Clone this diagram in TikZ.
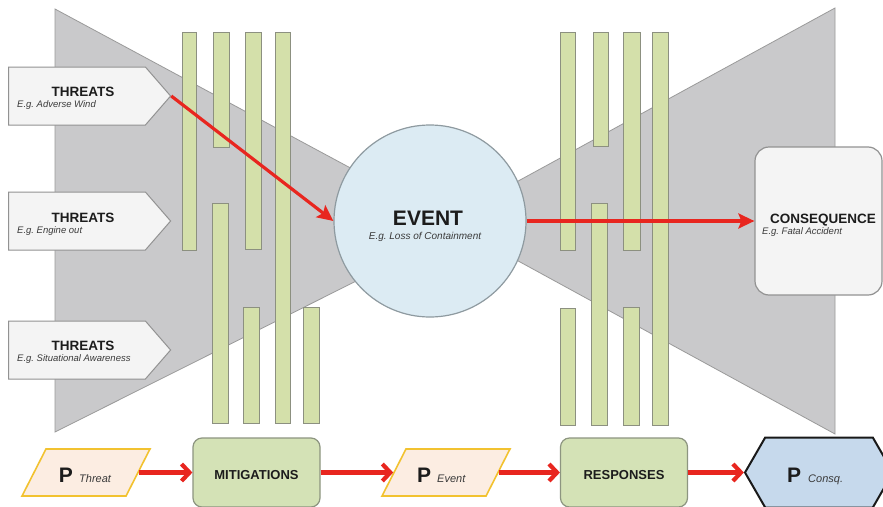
\documentclass[tikz,border=0pt]{standalone}
\usepackage{fontspec}
\setmainfont{Liberation Sans}
\frenchspacing
\usetikzlibrary{shapes.symbols,arrows.meta}
\definecolor{tri}{HTML}{C9C9CB}
\definecolor{triline}{HTML}{9A9A9A}
\definecolor{threatfill}{HTML}{F4F4F4}
\definecolor{boxline}{HTML}{929292}
\definecolor{barfill}{HTML}{D4E0AA}
\definecolor{barline}{HTML}{8C9080}
\definecolor{evfill}{HTML}{DCEBF3}
\definecolor{evline}{HTML}{8E9AA0}
\definecolor{arrred}{HTML}{E8261F}
\definecolor{pfill}{HTML}{FCEDE2}
\definecolor{pline}{HTML}{F2C230}
\definecolor{gbox}{HTML}{D4E2B6}
\definecolor{gline}{HTML}{8D9580}
\definecolor{cqfill}{HTML}{C6D9EC}
\definecolor{txt}{HTML}{1C1C1C}
\definecolor{subtxt}{HTML}{3A3A3A}
\begin{document}
\begin{tikzpicture}[x=1pt,y=-1pt,
  trishape/.style={fill=tri,draw=triline,line width=0.8pt},
  threatbox/.style={signal,signal to=east,signal pointer angle=98,draw=boxline,fill=threatfill,line width=1pt,minimum width=162pt,minimum height=58pt,inner sep=0pt},
  bar/.style={fill=barfill,draw=barline,line width=0.9pt},
  title/.style={anchor=base,inner sep=0pt,text=txt,font=\fontsize{13.5}{15}\selectfont\bfseries},
  sub/.style={anchor=base west,inner sep=0pt,text=subtxt,font=\fontsize{9.5}{11}\selectfont\itshape},
  redarrow/.style={draw=arrred,line width=3.2pt,-{Stealth[length=16pt,width=15pt,inset=3pt]}},
  flowarrow/.style={draw=arrred,line width=4.2pt,-{Straight Barb[length=8pt,width=17pt]}},
  pbox/.style={draw=pline,fill=pfill,line width=1.6pt,xslant=0.51,minimum width=104pt,minimum height=47pt,inner sep=0pt},
  gbx/.style={draw=gline,fill=gbox,line width=1.2pt,rounded corners=9pt,minimum width=127pt,minimum height=69pt,inner sep=0pt},
  bigp/.style={anchor=base,inner sep=0pt,text=txt,font=\fontsize{21}{24}\selectfont\bfseries},
  psub/.style={anchor=base west,inner sep=0pt,text=subtxt,font=\fontsize{11}{13}\selectfont\itshape}
]
\useasboundingbox (0,0) rectangle (883,506);
\fill[white] (0,0) rectangle (883,506);
\clip (0,0) rectangle (883,506);

% bow-tie triangles
\draw[trishape] (55,9) -- (462,228) -- (55,432) -- cycle;
\draw[trishape] (835,8) -- (445,221) -- (835,434) -- cycle;

% event
\node[circle,draw=evline,fill=evfill,line width=1.2pt,minimum size=192pt,inner sep=0pt] (event) at (430,221) {};
\node[anchor=base,inner sep=0pt,text=txt,font=\fontsize{21}{24}\selectfont\bfseries] (evtitle) at (428,225) {EVENT};
\node[anchor=base,inner sep=0pt,text=subtxt,font=\fontsize{10}{12}\selectfont\itshape] (evsub) at (425,239) {E.g. Loss of Containment};

% consequence
\node[rectangle,rounded corners=14pt,draw=boxline,fill=threatfill,line width=1.2pt,minimum width=127pt,minimum height=148pt,inner sep=0pt] (conseq) at (818.5,221) {};
\node[title] (cqtitle) at (823,223) {CONSEQUENCE};
\node[sub] (cqsub) at (762,234) {E.g. Fatal Accident};

% threats
\node[threatbox] (t1) at (77,96) {};
\node[title] (t1title) at (83,96) {THREATS};
\node[sub] (t1sub) at (17,107) {E.g. Adverse Wind};
\node[threatbox] (t2) at (77,221) {};
\node[title] (t2title) at (83,222) {THREATS};
\node[sub] (t2sub) at (17,233) {E.g. Engine out};
\node[threatbox] (t3) at (77,350) {};
\node[title] (t3title) at (83,350) {THREATS};
\node[sub] (t3sub) at (17,361) {E.g. Situational Awareness};

% left barriers
\draw[bar] (182,32) rectangle (196,250);
\draw[bar] (213,32) rectangle (229,147);
\draw[bar] (212,203) rectangle (228,423);
\draw[bar] (245,32) rectangle (261,249);
\draw[bar] (243,307) rectangle (259,423);
\draw[bar] (275,32) rectangle (290,423);
\draw[bar] (303,307) rectangle (319,423);

% right barriers
\draw[bar] (560,32) rectangle (575,250);
\draw[bar] (560,308) rectangle (575,425);
\draw[bar] (593,32) rectangle (608,146);
\draw[bar] (591,203) rectangle (607,425);
\draw[bar] (623,32) rectangle (640,250);
\draw[bar] (623,307) rectangle (639,425);
\draw[bar] (652,32) rectangle (668,425);

% main arrows
\draw[redarrow] (t1.east) -- (event.west);
\draw[redarrow] (event.east) -- (conseq.west);

% bottom flow
\node[pbox] (pthreat) at (86,472.5) {};
\node[bigp] (pthreatP) at (66,482) {P};
\node[psub] (pthreatS) at (79,482) {Threat};
\node[gbx] (mitig) at (256.5,472.5) {};
\node[title,font=\fontsize{13}{15}\selectfont\bfseries] (mitigT) at (256.5,479) {MITIGATIONS};
\node[pbox] (pevent) at (446,472.5) {};
\node[bigp] (peventP) at (424,482) {P};
\node[psub] (peventS) at (437,482) {Event};
\node[gbx] (resp) at (624,472.5) {};
\node[title,font=\fontsize{13}{15}\selectfont\bfseries] (respT) at (624,479) {RESPONSES};
\node[signal,signal to=west and east,signal pointer angle=120,draw=black!90,fill=cqfill,line width=2pt,minimum width=148pt,minimum height=70pt,inner sep=0pt] (pconsq) at (819,472.5) {};
\node[bigp] (pconsqP) at (794,482) {P};
\node[psub] (pconsqS) at (808,482) {Consq.};

\draw[flowarrow] (pthreat.east) -- (mitig.west);
\draw[flowarrow] (mitig.east) -- (pevent.west);
\draw[flowarrow] (pevent.east) -- (resp.west);
\draw[flowarrow] (resp.east) -- (pconsq.west);
\end{tikzpicture}
\end{document}
